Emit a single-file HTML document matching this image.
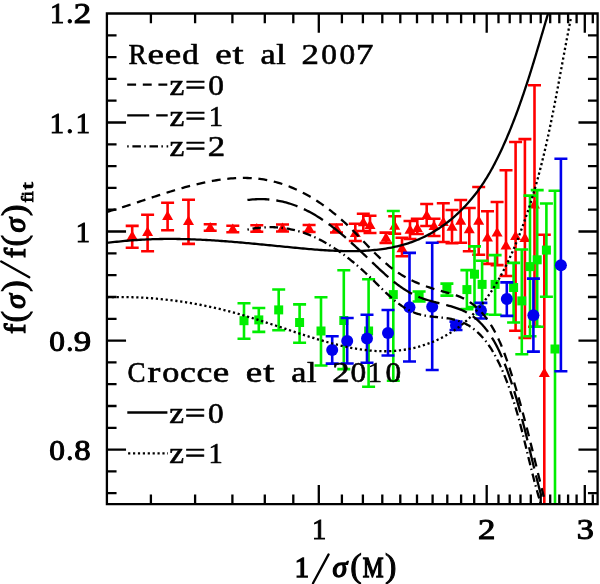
<!DOCTYPE html><html><head><meta charset="utf-8"><style>html,body{margin:0;padding:0;background:#fff;overflow:hidden}svg{display:block}</style></head><body><svg width="600" height="584" viewBox="0 0 600 584">
<rect width="600" height="584" fill="#fff"/>
<defs><clipPath id="c"><rect x="106.9" y="13.5" width="490.7" height="490.6"/></clipPath></defs>
<g clip-path="url(#c)">
<path d="M132.2,225.9V247.7M125.7,225.9h13.0M125.7,247.7h13.0" stroke="#ff0000" stroke-width="2.6" fill="none"/>
<path d="M147.6,214.8V251.3M141.1,214.8h13.0M141.1,251.3h13.0" stroke="#ff0000" stroke-width="2.6" fill="none"/>
<path d="M167.6,202.8V230.2M161.1,202.8h13.0M161.1,230.2h13.0" stroke="#ff0000" stroke-width="2.6" fill="none"/>
<path d="M188.5,199.7V243.9M182.0,199.7h13.0M182.0,243.9h13.0" stroke="#ff0000" stroke-width="2.6" fill="none"/>
<path d="M210.2,224.2V230.8M203.7,224.2h13.0M203.7,230.8h13.0" stroke="#ff0000" stroke-width="2.6" fill="none"/>
<path d="M232.8,225.8V232.2M226.3,225.8h13.0M226.3,232.2h13.0" stroke="#ff0000" stroke-width="2.6" fill="none"/>
<path d="M256.8,225.3V231.7M250.3,225.3h13.0M250.3,231.7h13.0" stroke="#ff0000" stroke-width="2.6" fill="none"/>
<path d="M282.5,224.5V231.5M276.0,224.5h13.0M276.0,231.5h13.0" stroke="#ff0000" stroke-width="2.6" fill="none"/>
<path d="M309.1,225.0V232.0M302.6,225.0h13.0M302.6,232.0h13.0" stroke="#ff0000" stroke-width="2.6" fill="none"/>
<path d="M336.5,224.5V232.5M330.0,224.5h13.0M330.0,232.5h13.0" stroke="#ff0000" stroke-width="2.6" fill="none"/>
<path d="M355.3,223.7V241.0M348.8,223.7h13.0M348.8,241.0h13.0" stroke="#ff0000" stroke-width="2.6" fill="none"/>
<path d="M363.3,213.7V231.0M356.8,213.7h13.0M356.8,231.0h13.0" stroke="#ff0000" stroke-width="2.6" fill="none"/>
<path d="M370.0,215.7V233.0M363.5,215.7h13.0M363.5,233.0h13.0" stroke="#ff0000" stroke-width="2.6" fill="none"/>
<path d="M386.0,232.6V243.0M379.5,232.6h13.0M379.5,243.0h13.0" stroke="#ff0000" stroke-width="2.6" fill="none"/>
<path d="M394.7,216.3V233.7M388.2,216.3h13.0M388.2,233.7h13.0" stroke="#ff0000" stroke-width="2.6" fill="none"/>
<path d="M402.0,237.7V256.3M395.5,237.7h13.0M395.5,256.3h13.0" stroke="#ff0000" stroke-width="2.6" fill="none"/>
<path d="M410.0,221.0V239.0M403.5,221.0h13.0M403.5,239.0h13.0" stroke="#ff0000" stroke-width="2.6" fill="none"/>
<path d="M417.3,218.7V234.0M410.8,218.7h13.0M410.8,234.0h13.0" stroke="#ff0000" stroke-width="2.6" fill="none"/>
<path d="M426.7,204.0V226.0M420.2,204.0h13.0M420.2,226.0h13.0" stroke="#ff0000" stroke-width="2.6" fill="none"/>
<path d="M434.0,218.7V236.0M427.5,218.7h13.0M427.5,236.0h13.0" stroke="#ff0000" stroke-width="2.6" fill="none"/>
<path d="M443.3,203.3V242.0M436.8,203.3h13.0M436.8,242.0h13.0" stroke="#ff0000" stroke-width="2.6" fill="none"/>
<path d="M452.0,210.0V243.3M445.5,210.0h13.0M445.5,243.3h13.0" stroke="#ff0000" stroke-width="2.6" fill="none"/>
<path d="M460.7,200.0V242.7M454.2,200.0h13.0M454.2,242.7h13.0" stroke="#ff0000" stroke-width="2.6" fill="none"/>
<path d="M469.3,208.0V251.3M462.8,208.0h13.0M462.8,251.3h13.0" stroke="#ff0000" stroke-width="2.6" fill="none"/>
<path d="M478.7,187.0V254.7M472.2,187.0h13.0M472.2,254.7h13.0" stroke="#ff0000" stroke-width="2.6" fill="none"/>
<path d="M487.5,211.2V263.9M481.0,211.2h13.0M481.0,263.9h13.0" stroke="#ff0000" stroke-width="2.6" fill="none"/>
<path d="M497.1,202.0V265.1M490.6,202.0h13.0M490.6,265.1h13.0" stroke="#ff0000" stroke-width="2.6" fill="none"/>
<path d="M506.0,170.3V276.0M499.5,170.3h13.0M499.5,276.0h13.0" stroke="#ff0000" stroke-width="2.6" fill="none"/>
<path d="M515.6,142.0V330.7M509.1,142.0h13.0M509.1,330.7h13.0" stroke="#ff0000" stroke-width="2.6" fill="none"/>
<path d="M524.9,139.1V337.9M518.4,139.1h13.0M518.4,337.9h13.0" stroke="#ff0000" stroke-width="2.6" fill="none"/>
<path d="M534.5,85.2V326.8M528.0,85.2h13.0M528.0,326.8h13.0" stroke="#ff0000" stroke-width="2.6" fill="none"/>
<path d="M544.3,234.7V520.0M537.8,234.7h13.0" stroke="#ff0000" stroke-width="2.6" fill="none"/>
<path d="M132.2,230.5L137.7,240.0L126.7,240.0Z" fill="#ff0000"/>
<path d="M147.6,226.5L153.1,236.0L142.1,236.0Z" fill="#ff0000"/>
<path d="M167.6,210.5L173.1,220.0L162.1,220.0Z" fill="#ff0000"/>
<path d="M188.5,215.5L194.0,225.0L183.0,225.0Z" fill="#ff0000"/>
<path d="M210.2,222.0L215.7,231.5L204.7,231.5Z" fill="#ff0000"/>
<path d="M232.8,223.5L238.3,233.0L227.3,233.0Z" fill="#ff0000"/>
<path d="M256.8,223.0L262.3,232.5L251.3,232.5Z" fill="#ff0000"/>
<path d="M282.5,222.5L288.0,232.0L277.0,232.0Z" fill="#ff0000"/>
<path d="M309.1,223.0L314.6,232.5L303.6,232.5Z" fill="#ff0000"/>
<path d="M336.5,223.0L342.0,232.5L331.0,232.5Z" fill="#ff0000"/>
<path d="M355.3,227.5L360.8,237.0L349.8,237.0Z" fill="#ff0000"/>
<path d="M363.3,216.8L368.8,226.3L357.8,226.3Z" fill="#ff0000"/>
<path d="M370.0,219.5L375.5,229.0L364.5,229.0Z" fill="#ff0000"/>
<path d="M386.0,232.2L391.5,241.7L380.5,241.7Z" fill="#ff0000"/>
<path d="M394.7,220.2L400.2,229.7L389.2,229.7Z" fill="#ff0000"/>
<path d="M402.0,242.8L407.5,252.3L396.5,252.3Z" fill="#ff0000"/>
<path d="M410.0,224.2L415.5,233.7L404.5,233.7Z" fill="#ff0000"/>
<path d="M417.3,222.5L422.8,232.0L411.8,232.0Z" fill="#ff0000"/>
<path d="M426.7,209.8L432.2,219.3L421.2,219.3Z" fill="#ff0000"/>
<path d="M434.0,220.5L439.5,230.0L428.5,230.0Z" fill="#ff0000"/>
<path d="M443.3,216.5L448.8,226.0L437.8,226.0Z" fill="#ff0000"/>
<path d="M452.0,221.2L457.5,230.7L446.5,230.7Z" fill="#ff0000"/>
<path d="M460.7,215.2L466.2,224.7L455.2,224.7Z" fill="#ff0000"/>
<path d="M469.3,223.8L474.8,233.3L463.8,233.3Z" fill="#ff0000"/>
<path d="M478.7,215.2L484.2,224.7L473.2,224.7Z" fill="#ff0000"/>
<path d="M487.5,232.0L493.0,241.5L482.0,241.5Z" fill="#ff0000"/>
<path d="M497.1,227.0L502.6,236.5L491.6,236.5Z" fill="#ff0000"/>
<path d="M506.0,240.0L511.5,249.5L500.5,249.5Z" fill="#ff0000"/>
<path d="M515.6,230.5L521.1,240.0L510.1,240.0Z" fill="#ff0000"/>
<path d="M524.9,232.5L530.4,242.0L519.4,242.0Z" fill="#ff0000"/>
<path d="M534.5,199.0L540.0,208.5L529.0,208.5Z" fill="#ff0000"/>
<path d="M544.3,367.5L549.8,377.0L538.8,377.0Z" fill="#ff0000"/>
<path d="M244.0,303.3V338.8M237.5,303.3h13.0M237.5,338.8h13.0" stroke="#00ee00" stroke-width="2.6" fill="none"/>
<path d="M258.8,308.0V331.9M252.3,308.0h13.0M252.3,331.9h13.0" stroke="#00ee00" stroke-width="2.6" fill="none"/>
<path d="M278.7,289.5V330.2M272.2,289.5h13.0M272.2,330.2h13.0" stroke="#00ee00" stroke-width="2.6" fill="none"/>
<path d="M299.6,304.4V342.7M293.1,304.4h13.0M293.1,342.7h13.0" stroke="#00ee00" stroke-width="2.6" fill="none"/>
<path d="M321.0,297.2V365.5M314.5,297.2h13.0M314.5,365.5h13.0" stroke="#00ee00" stroke-width="2.6" fill="none"/>
<path d="M343.8,270.2V369.1M337.3,270.2h13.0M337.3,369.1h13.0" stroke="#00ee00" stroke-width="2.6" fill="none"/>
<path d="M368.6,279.2V386.7M362.1,279.2h13.0M362.1,386.7h13.0" stroke="#00ee00" stroke-width="2.6" fill="none"/>
<path d="M393.3,211.0V380.7M386.8,211.0h13.0M386.8,380.7h13.0" stroke="#00ee00" stroke-width="2.6" fill="none"/>
<path d="M419.1,291.5V301.5M412.6,291.5h13.0M412.6,301.5h13.0" stroke="#00ee00" stroke-width="2.6" fill="none"/>
<path d="M446.9,283.6V295.6M440.4,283.6h13.0M440.4,295.6h13.0" stroke="#00ee00" stroke-width="2.6" fill="none"/>
<path d="M466.9,270.1V309.1M460.4,270.1h13.0M460.4,309.1h13.0" stroke="#00ee00" stroke-width="2.6" fill="none"/>
<path d="M474.5,246.4V307.0M468.0,246.4h13.0M468.0,307.0h13.0" stroke="#00ee00" stroke-width="2.6" fill="none"/>
<path d="M482.1,260.8V314.2M475.6,260.8h13.0M475.6,314.2h13.0" stroke="#00ee00" stroke-width="2.6" fill="none"/>
<path d="M495.1,255.1V314.8M488.6,255.1h13.0M488.6,314.8h13.0" stroke="#00ee00" stroke-width="2.6" fill="none"/>
<path d="M513.6,262.9V322.5M507.1,262.9h13.0M507.1,322.5h13.0" stroke="#00ee00" stroke-width="2.6" fill="none"/>
<path d="M521.8,249.5V354.2M515.3,249.5h13.0M515.3,354.2h13.0" stroke="#00ee00" stroke-width="2.6" fill="none"/>
<path d="M530.0,195.6V336.2M523.5,195.6h13.0M523.5,336.2h13.0" stroke="#00ee00" stroke-width="2.6" fill="none"/>
<path d="M537.2,190.1V326.8M530.7,190.1h13.0M530.7,326.8h13.0" stroke="#00ee00" stroke-width="2.6" fill="none"/>
<path d="M546.4,203.5V296.8M539.9,203.5h13.0M539.9,296.8h13.0" stroke="#00ee00" stroke-width="2.6" fill="none"/>
<path d="M555.0,190.7V520.0M548.5,190.7h13.0" stroke="#00ee00" stroke-width="2.6" fill="none"/>
<rect x="239.5" y="316.2" width="9" height="9" fill="#00ee00"/>
<rect x="254.3" y="315.4" width="9" height="9" fill="#00ee00"/>
<rect x="274.2" y="305.4" width="9" height="9" fill="#00ee00"/>
<rect x="295.1" y="318.0" width="9" height="9" fill="#00ee00"/>
<rect x="316.5" y="326.5" width="9" height="9" fill="#00ee00"/>
<rect x="339.3" y="316.0" width="9" height="9" fill="#00ee00"/>
<rect x="364.1" y="326.5" width="9" height="9" fill="#00ee00"/>
<rect x="388.8" y="290.1" width="9" height="9" fill="#00ee00"/>
<rect x="414.6" y="292.0" width="9" height="9" fill="#00ee00"/>
<rect x="442.4" y="284.5" width="9" height="9" fill="#00ee00"/>
<rect x="462.4" y="285.1" width="9" height="9" fill="#00ee00"/>
<rect x="470.0" y="269.7" width="9" height="9" fill="#00ee00"/>
<rect x="477.6" y="279.9" width="9" height="9" fill="#00ee00"/>
<rect x="490.6" y="279.9" width="9" height="9" fill="#00ee00"/>
<rect x="509.1" y="283.0" width="9" height="9" fill="#00ee00"/>
<rect x="517.3" y="296.4" width="9" height="9" fill="#00ee00"/>
<rect x="525.5" y="262.1" width="9" height="9" fill="#00ee00"/>
<rect x="532.7" y="255.3" width="9" height="9" fill="#00ee00"/>
<rect x="541.9" y="245.6" width="9" height="9" fill="#00ee00"/>
<rect x="550.5" y="344.5" width="9" height="9" fill="#00ee00"/>
<path d="M332.2,336.2V363.6M325.7,336.2h13.0M325.7,363.6h13.0" stroke="#0000ee" stroke-width="2.6" fill="none"/>
<path d="M347.2,318.0V363.5M340.7,318.0h13.0M340.7,363.5h13.0" stroke="#0000ee" stroke-width="2.6" fill="none"/>
<path d="M367.0,314.7V362.7M360.5,314.7h13.0M360.5,362.7h13.0" stroke="#0000ee" stroke-width="2.6" fill="none"/>
<path d="M388.0,310.0V355.5M381.5,310.0h13.0M381.5,355.5h13.0" stroke="#0000ee" stroke-width="2.6" fill="none"/>
<path d="M409.5,252.9V361.5M403.0,252.9h13.0M403.0,361.5h13.0" stroke="#0000ee" stroke-width="2.6" fill="none"/>
<path d="M432.2,242.8V370.0M425.7,242.8h13.0M425.7,370.0h13.0" stroke="#0000ee" stroke-width="2.6" fill="none"/>
<path d="M456.0,321.6V330.0M449.5,321.6h13.0M449.5,330.0h13.0" stroke="#0000ee" stroke-width="2.6" fill="none"/>
<path d="M480.9,302.9V318.5M474.4,302.9h13.0M474.4,318.5h13.0" stroke="#0000ee" stroke-width="2.6" fill="none"/>
<path d="M506.8,282.4V315.9M500.3,282.4h13.0M500.3,315.9h13.0" stroke="#0000ee" stroke-width="2.6" fill="none"/>
<path d="M533.4,278.6V351.6M526.9,278.6h13.0M526.9,351.6h13.0" stroke="#0000ee" stroke-width="2.6" fill="none"/>
<path d="M560.9,158.8V371.3M554.4,158.8h13.0M554.4,371.3h13.0" stroke="#0000ee" stroke-width="2.6" fill="none"/>
<circle cx="332.2" cy="350.0" r="6" fill="#0000ee"/>
<circle cx="347.2" cy="341.0" r="6" fill="#0000ee"/>
<circle cx="367.0" cy="338.5" r="6" fill="#0000ee"/>
<circle cx="388.0" cy="333.0" r="6" fill="#0000ee"/>
<circle cx="409.5" cy="307.2" r="6" fill="#0000ee"/>
<circle cx="432.2" cy="306.8" r="6" fill="#0000ee"/>
<circle cx="456.0" cy="325.2" r="6" fill="#0000ee"/>
<circle cx="480.9" cy="310.5" r="6" fill="#0000ee"/>
<circle cx="506.8" cy="299.0" r="6" fill="#0000ee"/>
<circle cx="533.4" cy="315.3" r="6" fill="#0000ee"/>
<circle cx="560.9" cy="265.2" r="6" fill="#0000ee"/>
<path d="M106.70,242.98 L108.73,242.71 L110.76,242.45 L112.77,242.21 L114.79,241.97 L116.80,241.74 L118.81,241.53 L120.81,241.32 L122.81,241.12 L124.81,240.94 L126.80,240.76 L128.79,240.59 L130.77,240.43 L132.75,240.27 L134.73,240.13 L136.71,240.00 L138.68,239.87 L140.65,239.75 L142.61,239.65 L144.58,239.55 L146.54,239.45 L148.49,239.37 L150.45,239.29 L152.40,239.22 L154.35,239.16 L156.30,239.11 L158.24,239.06 L160.18,239.02 L162.12,238.99 L164.06,238.97 L166.00,238.95 L167.93,238.94 L169.86,238.94 L171.79,238.94 L173.72,238.95 L175.65,238.97 L177.57,238.99 L179.50,239.02 L181.42,239.05 L183.34,239.09 L185.26,239.14 L187.18,239.19 L189.10,239.25 L191.01,239.31 L192.93,239.38 L194.84,239.46 L196.76,239.53 L198.67,239.62 L200.58,239.71 L202.49,239.80 L204.41,239.90 L206.32,240.00 L208.23,240.11 L210.14,240.22 L212.05,240.34 L213.96,240.46 L215.87,240.59 L217.78,240.71 L219.69,240.85 L221.60,240.98 L223.51,241.12 L225.42,241.26 L227.34,241.41 L229.25,241.56 L231.16,241.71 L233.08,241.87 L234.99,242.03 L236.91,242.19 L238.82,242.35 L240.74,242.52 L242.66,242.69 L244.58,242.86 L246.50,243.03 L248.42,243.21 L250.35,243.39 L252.27,243.57 L254.20,243.75 L256.13,243.93 L258.06,244.11 L259.99,244.30 L261.92,244.49 L263.86,244.68 L265.80,244.87 L267.74,245.06 L269.68,245.25 L271.63,245.44 L273.57,245.63 L275.52,245.82 L277.47,246.02 L279.43,246.21 L281.39,246.40 L283.35,246.60 L285.31,246.79 L287.28,246.98 L289.24,247.18 L291.22,247.37 L293.19,247.56 L295.17,247.75 L297.15,247.94 L299.14,248.13 L301.12,248.32 L303.11,248.50 L305.10,248.69 L307.10,248.86 L309.09,249.04 L311.09,249.21 L313.08,249.38 L315.08,249.54 L317.08,249.69 L319.08,249.84 L321.08,249.99 L323.08,250.12 L325.09,250.25 L327.09,250.38 L329.09,250.49 L331.09,250.60 L333.09,250.70 L335.08,250.79 L337.08,250.87 L339.07,250.94 L341.07,251.00 L343.06,251.04 L345.05,251.08 L347.04,251.11 L349.02,251.12 L351.00,251.12 L352.98,251.11 L354.96,251.08 L356.93,251.05 L358.90,250.99 L360.87,250.93 L362.83,250.84 L364.78,250.75 L366.74,250.63 L368.68,250.50 L370.63,250.36 L372.57,250.19 L374.50,250.01 L376.43,249.81 L378.35,249.59 L380.26,249.36 L382.17,249.10 L384.08,248.83 L385.97,248.53 L387.86,248.22 L389.75,247.88 L391.62,247.52 L393.49,247.14 L395.35,246.74 L397.21,246.32 L399.05,245.87 L400.89,245.40 L402.72,244.91 L404.54,244.39 L406.35,243.85 L408.15,243.28 L409.94,242.68 L411.73,242.06 L413.50,241.42 L415.27,240.75 L417.02,240.05 L418.76,239.32 L420.50,238.56 L422.22,237.78 L423.93,236.97 L425.63,236.13 L427.32,235.27 L429.00,234.37 L430.66,233.46 L432.31,232.51 L433.96,231.54 L435.59,230.55 L437.20,229.53 L438.81,228.48 L440.40,227.41 L441.98,226.32 L443.55,225.21 L445.10,224.07 L446.64,222.91 L448.16,221.72 L449.67,220.52 L451.17,219.29 L452.65,218.05 L454.12,216.78 L455.58,215.49 L457.02,214.18 L458.44,212.85 L459.85,211.51 L461.24,210.14 L462.62,208.76 L463.98,207.36 L465.33,205.94 L466.66,204.50 L467.97,203.05 L469.27,201.58 L470.55,200.09 L471.82,198.59 L473.06,197.07 L474.29,195.54 L475.51,193.99 L476.70,192.43 L477.88,190.85 L479.04,189.27 L480.18,187.66 L481.30,186.05 L482.41,184.42 L483.49,182.78 L484.57,181.13 L485.62,179.47 L486.66,177.80 L487.68,176.12 L488.69,174.43 L489.68,172.72 L490.65,171.01 L491.62,169.29 L492.57,167.57 L493.50,165.83 L494.42,164.09 L495.33,162.34 L496.23,160.59 L497.12,158.82 L497.99,157.06 L498.86,155.28 L499.71,153.51 L500.55,151.73 L501.39,149.94 L502.21,148.15 L503.02,146.36 L503.83,144.56 L504.63,142.77 L505.42,140.97 L506.20,139.17 L506.98,137.36 L507.74,135.56 L508.50,133.75 L509.25,131.94 L510.00,130.13 L510.74,128.31 L511.47,126.50 L512.19,124.68 L512.91,122.86 L513.62,121.04 L514.32,119.22 L515.02,117.39 L515.71,115.56 L516.40,113.74 L517.08,111.91 L517.75,110.07 L518.42,108.24 L519.08,106.41 L519.74,104.57 L520.39,102.73 L521.03,100.90 L521.68,99.06 L522.31,97.21 L522.94,95.37 L523.57,93.53 L524.20,91.68 L524.81,89.84 L525.43,87.99 L526.04,86.14 L526.64,84.30 L527.25,82.45 L527.84,80.60 L528.44,78.74 L529.03,76.89 L529.62,75.04 L530.20,73.19 L530.79,71.33 L531.37,69.48 L531.94,67.62 L532.52,65.76 L533.09,63.91 L533.66,62.05 L534.22,60.19 L534.79,58.34 L535.35,56.48 L535.91,54.62 L536.47,52.76 L537.02,50.90 L537.58,49.04 L538.13,47.18 L538.69,45.32 L539.24,43.46 L539.79,41.60 L540.34,39.74 L540.89,37.88 L541.44,36.02 L541.99,34.17 L542.54,32.31 L543.08,30.45 L543.63,28.59 L544.18,26.73 L544.73,24.87 L545.28,23.02 L545.83,21.16 L546.38,19.30 L546.93,17.45 L547.48,15.59 L548.03,13.74" stroke="#000" stroke-width="2.3" fill="none" stroke-linejoin="round"/>
<path d="M106.87,297.20 L109.24,297.14 L111.60,297.09 L113.96,297.06 L116.33,297.04 L118.69,297.03 L121.04,297.03 L123.40,297.05 L125.76,297.08 L128.11,297.12 L130.46,297.18 L132.81,297.25 L135.16,297.33 L137.51,297.43 L139.85,297.54 L142.19,297.66 L144.53,297.79 L146.87,297.94 L149.21,298.10 L151.54,298.27 L153.88,298.46 L156.21,298.65 L158.54,298.86 L160.86,299.09 L163.19,299.32 L165.51,299.57 L167.83,299.83 L170.14,300.10 L172.46,300.39 L174.77,300.68 L177.08,300.99 L179.39,301.31 L181.69,301.65 L183.99,301.99 L186.29,302.35 L188.59,302.72 L190.88,303.11 L193.17,303.50 L195.46,303.91 L197.75,304.32 L200.03,304.75 L202.31,305.20 L204.59,305.65 L206.86,306.12 L209.13,306.60 L211.40,307.08 L213.66,307.59 L215.93,308.10 L218.18,308.62 L220.44,309.16 L222.69,309.71 L224.94,310.27 L227.19,310.84 L229.43,311.42 L231.67,312.02 L233.90,312.62 L236.13,313.24 L238.36,313.87 L240.59,314.50 L242.81,315.15 L245.03,315.81 L247.25,316.48 L249.47,317.15 L251.68,317.83 L253.90,318.52 L256.11,319.22 L258.32,319.92 L260.53,320.63 L262.75,321.35 L264.96,322.07 L267.17,322.79 L269.38,323.52 L271.60,324.25 L273.81,324.99 L276.03,325.73 L278.24,326.47 L280.46,327.21 L282.69,327.95 L284.91,328.69 L287.14,329.44 L289.37,330.18 L291.60,330.93 L293.84,331.67 L296.08,332.41 L298.32,333.15 L300.57,333.88 L302.82,334.61 L305.08,335.34 L307.34,336.07 L309.61,336.79 L311.88,337.50 L314.16,338.21 L316.44,338.91 L318.73,339.60 L321.02,340.28 L323.32,340.95 L325.61,341.60 L327.91,342.25 L330.22,342.88 L332.53,343.50 L334.84,344.10 L337.15,344.68 L339.47,345.25 L341.78,345.79 L344.10,346.32 L346.42,346.83 L348.74,347.31 L351.07,347.77 L353.39,348.21 L355.72,348.62 L358.04,349.01 L360.37,349.37 L362.69,349.70 L365.02,350.00 L367.35,350.27 L369.67,350.52 L372.00,350.73 L374.32,350.90 L376.64,351.04 L378.96,351.15 L381.28,351.22 L383.60,351.26 L385.91,351.25 L388.22,351.21 L390.53,351.13 L392.84,351.00 L395.14,350.84 L397.44,350.63 L399.74,350.38 L402.03,350.09 L404.31,349.76 L406.59,349.38 L408.86,348.97 L411.11,348.52 L413.36,348.02 L415.60,347.49 L417.83,346.91 L420.04,346.29 L422.24,345.64 L424.43,344.94 L426.60,344.21 L428.75,343.43 L430.89,342.62 L433.01,341.77 L435.12,340.88 L437.20,339.95 L439.26,338.98 L441.31,337.97 L443.33,336.93 L445.33,335.84 L447.30,334.72 L449.25,333.56 L451.18,332.37 L453.08,331.13 L454.95,329.86 L456.80,328.55 L458.61,327.21 L460.40,325.83 L462.17,324.41 L463.91,322.96 L465.62,321.48 L467.30,319.96 L468.96,318.41 L470.60,316.84 L472.21,315.23 L473.79,313.59 L475.36,311.92 L476.89,310.22 L478.41,308.50 L479.90,306.75 L481.36,304.97 L482.81,303.16 L484.23,301.34 L485.63,299.48 L487.00,297.61 L488.36,295.71 L489.70,293.79 L491.01,291.85 L492.30,289.89 L493.58,287.91 L494.83,285.91 L496.06,283.89 L497.27,281.86 L498.47,279.80 L499.65,277.74 L500.80,275.65 L501.94,273.55 L503.06,271.44 L504.17,269.32 L505.25,267.18 L506.32,265.03 L507.38,262.87 L508.41,260.70 L509.43,258.52 L510.44,256.33 L511.43,254.13 L512.40,251.93 L513.36,249.72 L514.31,247.50 L515.24,245.28 L516.15,243.05 L517.06,240.82 L517.95,238.59 L518.82,236.36 L519.69,234.12 L520.54,231.88 L521.38,229.65 L522.21,227.41 L523.02,225.17 L523.83,222.94 L524.62,220.70 L525.41,218.47 L526.18,216.23 L526.94,214.00 L527.69,211.77 L528.43,209.53 L529.16,207.30 L529.88,205.07 L530.59,202.83 L531.29,200.60 L531.98,198.37 L532.67,196.14 L533.34,193.90 L534.00,191.67 L534.66,189.44 L535.30,187.21 L535.94,184.98 L536.57,182.74 L537.19,180.51 L537.80,178.28 L538.40,176.04 L539.00,173.81 L539.59,171.57 L540.17,169.34 L540.75,167.10 L541.32,164.87 L541.88,162.63 L542.43,160.39 L542.98,158.16 L543.52,155.92 L544.06,153.68 L544.59,151.44 L545.11,149.20 L545.63,146.96 L546.14,144.72 L546.65,142.47 L547.15,140.23 L547.64,137.98 L548.14,135.74 L548.62,133.49 L549.11,131.24 L549.58,128.99 L550.06,126.74 L550.53,124.49 L551.00,122.23 L551.46,119.98 L551.92,117.72 L552.37,115.46 L552.83,113.20 L553.28,110.94 L553.72,108.68 L554.17,106.42 L554.61,104.15 L555.05,101.88 L555.49,99.62 L555.92,97.34 L556.36,95.07 L556.79,92.80 L557.22,90.52 L557.65,88.24 L558.08,85.96 L558.50,83.68 L558.93,81.40 L559.36,79.11 L559.78,76.82 L560.21,74.53 L560.63,72.24 L561.06,69.94 L561.48,67.64 L561.91,65.34 L562.34,63.04 L562.76,60.74 L563.19,58.43 L563.62,56.12 L564.05,53.81 L564.48,51.49 L564.91,49.18 L565.35,46.85 L565.79,44.53 L566.23,42.21 L566.67,39.88 L567.11,37.55 L567.56,35.21 L568.01,32.87 L568.46,30.53 L568.91,28.19 L569.37,25.85 L569.83,23.50 L570.30,21.14 L570.77,18.79" stroke="#000" stroke-width="2.3" fill="none" stroke-linejoin="round" stroke-dasharray="2.2,2.7"/>
<path d="M107.15,211.81 L109.03,211.28 L110.91,210.73 L112.80,210.18 L114.70,209.61 L116.61,209.03 L118.53,208.44 L120.45,207.84 L122.38,207.24 L124.32,206.62 L126.27,205.99 L128.22,205.36 L130.18,204.72 L132.15,204.07 L134.13,203.42 L136.11,202.77 L138.10,202.11 L140.09,201.44 L142.09,200.78 L144.09,200.11 L146.11,199.44 L148.12,198.76 L150.14,198.09 L152.17,197.42 L154.20,196.75 L156.24,196.08 L158.28,195.41 L160.32,194.75 L162.37,194.09 L164.42,193.43 L166.48,192.78 L168.53,192.13 L170.60,191.49 L172.66,190.86 L174.73,190.23 L176.80,189.61 L178.87,189.00 L180.95,188.40 L183.03,187.81 L185.11,187.23 L187.19,186.67 L189.27,186.11 L191.36,185.57 L193.44,185.03 L195.53,184.52 L197.62,184.02 L199.71,183.53 L201.79,183.06 L203.88,182.60 L205.97,182.16 L208.06,181.74 L210.15,181.34 L212.24,180.96 L214.32,180.60 L216.41,180.25 L218.49,179.93 L220.58,179.63 L222.66,179.35 L224.74,179.10 L226.82,178.86 L228.90,178.66 L230.97,178.47 L233.04,178.32 L235.11,178.19 L237.18,178.08 L239.24,178.00 L241.30,177.95 L243.36,177.93 L245.42,177.94 L247.47,177.98 L249.51,178.05 L251.55,178.15 L253.59,178.28 L255.63,178.45 L257.65,178.65 L259.68,178.88 L261.70,179.15 L263.71,179.45 L265.72,179.79 L267.72,180.16 L269.72,180.57 L271.71,181.02 L273.69,181.50 L275.67,182.01 L277.64,182.56 L279.61,183.15 L281.56,183.76 L283.51,184.41 L285.46,185.09 L287.39,185.81 L289.32,186.55 L291.24,187.32 L293.15,188.13 L295.05,188.96 L296.95,189.82 L298.83,190.71 L300.71,191.63 L302.58,192.58 L304.43,193.55 L306.28,194.55 L308.12,195.57 L309.95,196.62 L311.76,197.69 L313.57,198.79 L315.37,199.91 L317.15,201.05 L318.93,202.22 L320.69,203.41 L322.44,204.61 L324.18,205.84 L325.91,207.09 L327.63,208.36 L329.33,209.65 L331.02,210.95 L332.70,212.28 L334.37,213.62 L336.02,214.98 L337.66,216.35 L339.29,217.75 L340.90,219.15 L342.50,220.57 L344.08,222.01 L345.65,223.46 L347.20,224.92 L348.75,226.39 L350.27,227.88 L351.79,229.37 L353.29,230.88 L354.79,232.39 L356.27,233.91 L357.75,235.43 L359.22,236.95 L360.69,238.48 L362.15,240.00 L363.61,241.53 L365.06,243.05 L366.52,244.57 L367.98,246.09 L369.43,247.60 L370.90,249.10 L372.36,250.59 L373.83,252.07 L375.31,253.54 L376.79,255.00 L378.28,256.44 L379.79,257.87 L381.30,259.28 L382.82,260.67 L384.36,262.04 L385.92,263.39 L387.48,264.72 L389.07,266.02 L390.67,267.30 L392.29,268.56 L393.94,269.78 L395.60,270.98 L397.29,272.14 L399.00,273.28 L400.73,274.38 L402.49,275.45 L404.27,276.48 L406.08,277.49 L407.90,278.46 L409.75,279.41 L411.62,280.33 L413.51,281.22 L415.42,282.08 L417.35,282.91 L419.30,283.72 L421.27,284.51 L423.25,285.27 L425.24,286.01 L427.26,286.73 L429.28,287.42 L431.33,288.10 L433.38,288.75 L435.45,289.39 L437.53,290.01 L439.62,290.61 L441.72,291.19 L443.83,291.76 L445.94,292.32 L448.04,292.89 L450.14,293.47 L452.21,294.07 L454.26,294.70 L456.27,295.38 L458.24,296.10 L460.16,296.88 L462.03,297.72 L463.86,298.62 L465.63,299.57 L467.37,300.57 L469.06,301.63 L470.70,302.74 L472.30,303.90 L473.86,305.10 L475.38,306.36 L476.86,307.65 L478.30,309.00 L479.70,310.38 L481.06,311.81 L482.39,313.28 L483.68,314.79 L484.94,316.33 L486.16,317.91 L487.35,319.53 L488.51,321.18 L489.64,322.86 L490.74,324.57 L491.81,326.31 L492.85,328.08 L493.87,329.87 L494.86,331.69 L495.82,333.53 L496.76,335.40 L497.68,337.29 L498.57,339.20 L499.44,341.12 L500.30,343.06 L501.13,345.02 L501.94,346.99 L502.74,348.98 L503.52,350.98 L504.28,352.98 L505.03,355.00 L505.76,357.02 L506.48,359.05 L507.19,361.08 L507.89,363.12 L508.58,365.16 L509.26,367.20 L509.93,369.24 L510.59,371.28 L511.24,373.31 L511.89,375.34 L512.53,377.38 L513.17,379.40 L513.79,381.43 L514.41,383.46 L515.03,385.48 L515.64,387.50 L516.24,389.53 L516.83,391.55 L517.43,393.56 L518.01,395.58 L518.59,397.60 L519.16,399.61 L519.73,401.63 L520.30,403.64 L520.86,405.65 L521.41,407.67 L521.97,409.68 L522.51,411.69 L523.05,413.70 L523.59,415.71 L524.13,417.72 L524.66,419.73 L525.19,421.74 L525.71,423.75 L526.23,425.76 L526.75,427.77 L527.27,429.78 L527.78,431.79 L528.29,433.80 L528.80,435.81 L529.31,437.82 L529.81,439.83 L530.31,441.84 L530.81,443.86 L531.31,445.87 L531.81,447.89 L532.31,449.90 L532.80,451.92 L533.30,453.94 L533.79,455.96 L534.29,457.98 L534.78,460.01 L535.27,462.03 L535.77,464.06 L536.26,466.08 L536.75,468.11 L537.25,470.14 L537.74,472.18 L538.24,474.21 L538.73,476.25 L539.23,478.29 L539.73,480.33 L540.23,482.37 L540.73,484.42 L541.24,486.47 L541.74,488.52 L542.25,490.57 L542.76,492.63 L543.27,494.69 L543.78,496.75 L544.30,498.82 L544.82,500.89 L545.35,502.96 L545.87,505.03" stroke="#000" stroke-width="2.3" fill="none" stroke-linejoin="round" stroke-dasharray="8.9,6.7"/>
<path d="M247.42,199.98 L249.15,199.77 L250.87,199.60 L252.58,199.45 L254.27,199.33 L255.95,199.23 L257.63,199.17 L259.29,199.13 L260.93,199.13 L262.57,199.15 L264.20,199.19 L265.82,199.26 L267.42,199.36 L269.01,199.49 L270.60,199.64 L272.17,199.81 L273.74,200.01 L275.29,200.24 L276.83,200.49 L278.37,200.76 L279.89,201.06 L281.40,201.37 L282.91,201.72 L284.40,202.08 L285.89,202.47 L287.36,202.88 L288.83,203.31 L290.29,203.76 L291.74,204.23 L293.18,204.72 L294.61,205.23 L296.04,205.77 L297.45,206.32 L298.86,206.89 L300.26,207.48 L301.65,208.08 L303.04,208.71 L304.41,209.35 L305.78,210.01 L307.14,210.69 L308.50,211.39 L309.84,212.10 L311.18,212.82 L312.52,213.56 L313.84,214.32 L315.16,215.09 L316.47,215.88 L317.78,216.68 L319.08,217.50 L320.37,218.33 L321.66,219.17 L322.94,220.02 L324.22,220.89 L325.49,221.77 L326.75,222.66 L328.01,223.57 L329.27,224.48 L330.52,225.41 L331.76,226.34 L333.00,227.29 L334.23,228.24 L335.46,229.21 L336.68,230.18 L337.90,231.17 L339.12,232.16 L340.33,233.16 L341.54,234.16 L342.74,235.18 L343.94,236.20 L345.14,237.23 L346.33,238.26 L347.52,239.31 L348.70,240.35 L349.88,241.41 L351.06,242.46 L352.24,243.53 L353.41,244.59 L354.58,245.66 L355.75,246.74 L356.91,247.81 L358.08,248.90 L359.24,249.98 L360.40,251.06 L361.55,252.15 L362.71,253.24 L363.86,254.33 L365.01,255.42 L366.16,256.51 L367.31,257.61 L368.45,258.70 L369.60,259.79 L370.75,260.88 L371.89,261.97 L373.03,263.06 L374.17,264.15 L375.32,265.23 L376.46,266.31 L377.60,267.39 L378.74,268.47 L379.89,269.54 L381.03,270.60 L382.18,271.66 L383.33,272.71 L384.49,273.76 L385.65,274.80 L386.81,275.82 L387.98,276.84 L389.15,277.85 L390.33,278.85 L391.51,279.84 L392.70,280.82 L393.90,281.78 L395.10,282.73 L396.32,283.67 L397.54,284.59 L398.77,285.50 L400.01,286.39 L401.26,287.27 L402.52,288.13 L403.79,288.97 L405.07,289.79 L406.36,290.60 L407.67,291.38 L408.99,292.15 L410.32,292.89 L411.67,293.61 L413.03,294.31 L414.40,294.99 L415.79,295.65 L417.19,296.28 L418.61,296.89 L420.05,297.47 L421.51,298.02 L422.98,298.55 L424.46,299.06 L425.96,299.55 L427.47,300.02 L428.99,300.48 L430.51,300.92 L432.05,301.34 L433.59,301.76 L435.14,302.17 L436.69,302.57 L438.24,302.96 L439.79,303.36 L441.34,303.75 L442.89,304.14 L444.44,304.54 L445.98,304.94 L447.51,305.35 L449.04,305.77 L450.55,306.20 L452.06,306.64 L453.55,307.10 L455.03,307.57 L456.50,308.06 L457.95,308.58 L459.38,309.11 L460.79,309.67 L462.18,310.26 L463.56,310.87 L464.90,311.52 L466.23,312.19 L467.53,312.91 L468.80,313.65 L470.05,314.42 L471.27,315.23 L472.48,316.06 L473.66,316.93 L474.81,317.82 L475.95,318.74 L477.06,319.69 L478.15,320.67 L479.22,321.67 L480.27,322.70 L481.30,323.75 L482.31,324.83 L483.29,325.93 L484.26,327.05 L485.21,328.19 L486.15,329.36 L487.06,330.55 L487.96,331.75 L488.83,332.98 L489.70,334.22 L490.54,335.49 L491.37,336.77 L492.18,338.06 L492.98,339.37 L493.76,340.70 L494.53,342.04 L495.28,343.40 L496.02,344.77 L496.75,346.15 L497.46,347.55 L498.16,348.95 L498.85,350.37 L499.52,351.79 L500.19,353.23 L500.84,354.67 L501.48,356.12 L502.11,357.58 L502.73,359.04 L503.34,360.52 L503.94,361.99 L504.53,363.47 L505.12,364.95 L505.69,366.44 L506.26,367.93 L506.82,369.42 L507.37,370.91 L507.91,372.41 L508.45,373.90 L508.99,375.39 L509.51,376.89 L510.03,378.38 L510.54,379.88 L511.05,381.38 L511.55,382.87 L512.04,384.37 L512.53,385.87 L513.01,387.37 L513.49,388.87 L513.96,390.37 L514.43,391.87 L514.89,393.37 L515.35,394.87 L515.80,396.37 L516.25,397.87 L516.69,399.38 L517.13,400.88 L517.56,402.38 L517.99,403.89 L518.42,405.39 L518.84,406.90 L519.26,408.40 L519.67,409.91 L520.08,411.41 L520.49,412.92 L520.89,414.43 L521.29,415.93 L521.69,417.44 L522.08,418.95 L522.48,420.45 L522.87,421.96 L523.25,423.47 L523.64,424.98 L524.02,426.49 L524.40,427.99 L524.77,429.50 L525.15,431.01 L525.52,432.52 L525.90,434.03 L526.27,435.54 L526.64,437.05 L527.00,438.56 L527.37,440.07 L527.74,441.58 L528.10,443.09 L528.46,444.60 L528.83,446.11 L529.19,447.62 L529.55,449.13 L529.92,450.64 L530.28,452.15 L530.64,453.66 L531.00,455.17 L531.37,456.68 L531.73,458.18 L532.09,459.69 L532.46,461.20 L532.82,462.71 L533.19,464.22 L533.55,465.73 L533.92,467.24 L534.29,468.75 L534.66,470.26 L535.03,471.77 L535.41,473.27 L535.78,474.78 L536.16,476.29 L536.54,477.80 L536.92,479.31 L537.31,480.81 L537.70,482.32 L538.09,483.83 L538.48,485.33 L538.87,486.84 L539.27,488.34 L539.67,489.85 L540.08,491.35 L540.48,492.86 L540.89,494.36 L541.31,495.87 L541.73,497.37 L542.15,498.87 L542.58,500.38 L543.01,501.88 L543.44,503.38 L543.88,504.88" stroke="#000" stroke-width="2.3" fill="none" stroke-linejoin="round" stroke-dasharray="22,7"/>
<path d="M247.43,229.70 L249.08,229.35 L250.72,229.03 L252.35,228.74 L253.97,228.47 L255.59,228.23 L257.19,228.02 L258.79,227.83 L260.38,227.66 L261.96,227.52 L263.54,227.41 L265.11,227.32 L266.67,227.25 L268.22,227.21 L269.76,227.19 L271.30,227.19 L272.83,227.22 L274.35,227.27 L275.87,227.34 L277.37,227.44 L278.87,227.56 L280.36,227.70 L281.85,227.86 L283.33,228.04 L284.80,228.24 L286.26,228.47 L287.72,228.71 L289.17,228.98 L290.61,229.26 L292.05,229.57 L293.48,229.89 L294.90,230.24 L296.32,230.60 L297.73,230.98 L299.13,231.38 L300.53,231.80 L301.92,232.24 L303.30,232.70 L304.68,233.17 L306.05,233.66 L307.41,234.17 L308.77,234.69 L310.12,235.23 L311.47,235.79 L312.81,236.36 L314.14,236.95 L315.47,237.56 L316.79,238.18 L318.10,238.82 L319.41,239.47 L320.72,240.13 L322.01,240.81 L323.31,241.51 L324.59,242.21 L325.87,242.93 L327.15,243.67 L328.42,244.42 L329.68,245.18 L330.94,245.95 L332.20,246.74 L333.45,247.54 L334.69,248.35 L335.93,249.17 L337.16,250.00 L338.39,250.84 L339.61,251.70 L340.83,252.56 L342.04,253.44 L343.25,254.33 L344.45,255.22 L345.65,256.13 L346.84,257.04 L348.03,257.97 L349.21,258.90 L350.39,259.84 L351.57,260.79 L352.74,261.75 L353.90,262.72 L355.06,263.69 L356.22,264.67 L357.37,265.66 L358.52,266.66 L359.67,267.66 L360.81,268.67 L361.94,269.68 L363.07,270.70 L364.20,271.73 L365.33,272.76 L366.45,273.80 L367.56,274.84 L368.67,275.88 L369.78,276.94 L370.89,277.99 L371.99,279.05 L373.08,280.11 L374.18,281.18 L375.27,282.25 L376.36,283.32 L377.44,284.39 L378.52,285.46 L379.60,286.53 L380.69,287.60 L381.77,288.67 L382.85,289.73 L383.93,290.79 L385.02,291.84 L386.11,292.89 L387.20,293.92 L388.30,294.95 L389.40,295.96 L390.51,296.96 L391.62,297.95 L392.75,298.93 L393.87,299.89 L395.01,300.83 L396.16,301.76 L397.31,302.67 L398.48,303.56 L399.66,304.43 L400.85,305.27 L402.05,306.10 L403.26,306.90 L404.49,307.67 L405.73,308.42 L406.99,309.14 L408.26,309.83 L409.55,310.50 L410.86,311.13 L412.19,311.73 L413.53,312.30 L414.89,312.84 L416.27,313.34 L417.68,313.80 L419.10,314.23 L420.54,314.62 L422.01,314.97 L423.50,315.29 L425.00,315.58 L426.52,315.84 L428.05,316.07 L429.59,316.29 L431.14,316.49 L432.70,316.67 L434.27,316.85 L435.83,317.01 L437.40,317.18 L438.97,317.34 L440.54,317.50 L442.10,317.67 L443.66,317.85 L445.21,318.04 L446.75,318.24 L448.27,318.46 L449.79,318.71 L451.28,318.98 L452.76,319.27 L454.22,319.60 L455.66,319.97 L457.07,320.37 L458.46,320.81 L459.82,321.28 L461.17,321.80 L462.49,322.35 L463.78,322.93 L465.06,323.55 L466.31,324.20 L467.54,324.88 L468.75,325.60 L469.94,326.34 L471.11,327.12 L472.26,327.93 L473.39,328.76 L474.50,329.63 L475.58,330.52 L476.65,331.44 L477.70,332.39 L478.74,333.36 L479.75,334.35 L480.74,335.37 L481.72,336.42 L482.68,337.48 L483.63,338.57 L484.55,339.68 L485.46,340.81 L486.35,341.96 L487.23,343.13 L488.09,344.32 L488.94,345.53 L489.77,346.75 L490.59,347.99 L491.39,349.24 L492.18,350.51 L492.95,351.79 L493.71,353.09 L494.46,354.40 L495.20,355.72 L495.92,357.05 L496.63,358.39 L497.32,359.75 L498.01,361.11 L498.68,362.48 L499.35,363.86 L500.00,365.24 L500.64,366.63 L501.27,368.03 L501.89,369.43 L502.51,370.84 L503.11,372.24 L503.70,373.66 L504.29,375.07 L504.86,376.48 L505.43,377.90 L505.99,379.32 L506.54,380.74 L507.08,382.16 L507.62,383.58 L508.15,385.00 L508.67,386.43 L509.18,387.85 L509.69,389.28 L510.19,390.71 L510.68,392.14 L511.17,393.57 L511.65,395.00 L512.12,396.43 L512.59,397.87 L513.05,399.30 L513.51,400.74 L513.96,402.18 L514.40,403.61 L514.84,405.05 L515.27,406.49 L515.70,407.93 L516.12,409.37 L516.54,410.82 L516.96,412.26 L517.37,413.70 L517.77,415.15 L518.18,416.59 L518.57,418.04 L518.97,419.49 L519.36,420.93 L519.74,422.38 L520.13,423.83 L520.51,425.28 L520.89,426.73 L521.26,428.18 L521.63,429.63 L522.00,431.08 L522.37,432.53 L522.73,433.98 L523.10,435.43 L523.46,436.88 L523.82,438.34 L524.17,439.79 L524.53,441.24 L524.88,442.69 L525.24,444.15 L525.59,445.60 L525.94,447.05 L526.30,448.51 L526.65,449.96 L527.00,451.41 L527.35,452.87 L527.70,454.32 L528.05,455.77 L528.40,457.23 L528.75,458.68 L529.10,460.13 L529.46,461.58 L529.81,463.04 L530.17,464.49 L530.52,465.94 L530.88,467.39 L531.24,468.84 L531.60,470.29 L531.96,471.74 L532.33,473.19 L532.70,474.64 L533.07,476.09 L533.44,477.54 L533.81,478.99 L534.19,480.44 L534.57,481.88 L534.95,483.33 L535.34,484.78 L535.73,486.22 L536.13,487.66 L536.53,489.11 L536.93,490.55 L537.33,491.99 L537.74,493.43 L538.16,494.87 L538.58,496.31 L539.00,497.75 L539.43,499.19 L539.87,500.62 L540.31,502.06 L540.75,503.49 L541.20,504.93" stroke="#000" stroke-width="2.3" fill="none" stroke-linejoin="round" stroke-dasharray="1.5,3.7,8.5,3.4"/>
</g>
<path d="M106.9,13.5H597.6V504.1H106.9Z M106.9,493.2h8.5 M597.6,493.2h-8.5 M106.9,471.4h8.5 M597.6,471.4h-8.5 M106.9,449.6h18.0 M597.6,449.6h-18.0 M106.9,427.8h8.5 M597.6,427.8h-8.5 M106.9,406.0h8.5 M597.6,406.0h-8.5 M106.9,384.2h8.5 M597.6,384.2h-8.5 M106.9,362.4h8.5 M597.6,362.4h-8.5 M106.9,340.6h18.0 M597.6,340.6h-18.0 M106.9,318.8h8.5 M597.6,318.8h-8.5 M106.9,297.0h8.5 M597.6,297.0h-8.5 M106.9,275.2h8.5 M597.6,275.2h-8.5 M106.9,253.3h8.5 M597.6,253.3h-8.5 M106.9,231.5h18.0 M597.6,231.5h-18.0 M106.9,209.7h8.5 M597.6,209.7h-8.5 M106.9,187.9h8.5 M597.6,187.9h-8.5 M106.9,166.1h8.5 M597.6,166.1h-8.5 M106.9,144.3h8.5 M597.6,144.3h-8.5 M106.9,122.5h18.0 M597.6,122.5h-18.0 M106.9,100.7h8.5 M597.6,100.7h-8.5 M106.9,78.9h8.5 M597.6,78.9h-8.5 M106.9,57.1h8.5 M597.6,57.1h-8.5 M106.9,35.3h8.5 M597.6,35.3h-8.5 M106.9,13.5h18.0 M597.6,13.5h-18.0 M150.9,504.1v-8.5 M150.9,13.5v8.5 M195.1,504.1v-8.5 M195.1,13.5v8.5 M232.4,504.1v-8.5 M232.4,13.5v8.5 M264.8,504.1v-8.5 M264.8,13.5v8.5 M293.3,504.1v-8.5 M293.3,13.5v8.5 M318.8,504.1v-18.0 M318.8,13.5v18.0 M341.9,504.1v-8.5 M341.9,13.5v8.5 M362.9,504.1v-8.5 M362.9,13.5v8.5 M382.3,504.1v-8.5 M382.3,13.5v8.5 M400.3,504.1v-8.5 M400.3,13.5v8.5 M417.0,504.1v-8.5 M417.0,13.5v8.5 M432.6,504.1v-8.5 M432.6,13.5v8.5 M447.3,504.1v-8.5 M447.3,13.5v8.5 M461.1,504.1v-8.5 M461.1,13.5v8.5 M474.2,504.1v-8.5 M474.2,13.5v8.5 M486.7,504.1v-18.0 M486.7,13.5v18.0 M498.5,504.1v-8.5 M498.5,13.5v8.5 M509.7,504.1v-8.5 M509.7,13.5v8.5 M520.5,504.1v-8.5 M520.5,13.5v8.5 M530.8,504.1v-8.5 M530.8,13.5v8.5 M540.7,504.1v-8.5 M540.7,13.5v8.5 M550.2,504.1v-8.5 M550.2,13.5v8.5 M559.3,504.1v-8.5 M559.3,13.5v8.5 M568.1,504.1v-8.5 M568.1,13.5v8.5 M576.6,504.1v-8.5 M576.6,13.5v8.5 M584.8,504.1v-18.0 M584.8,13.5v18.0 M592.8,504.1v-8.5 M592.8,13.5v8.5" stroke="#000" stroke-width="2.3" fill="none" stroke-linecap="square"/>
<g style="opacity:0.999">
<text transform="translate(137.60,64.00) scale(0.960,1)" x="0" y="0" text-anchor="middle" style="font-family:'Liberation Serif';font-size:28.50px;stroke:#000;stroke-width:0.60;">R</text>
<text transform="translate(155.80,64.00) scale(1.300,1)" x="0" y="0" text-anchor="middle" style="font-family:'Liberation Serif';font-size:28.50px;stroke:#000;stroke-width:0.60;">e</text>
<text transform="translate(173.00,64.00) scale(1.300,1)" x="0" y="0" text-anchor="middle" style="font-family:'Liberation Serif';font-size:28.50px;stroke:#000;stroke-width:0.60;">e</text>
<text transform="translate(190.50,64.00) scale(1.150,1)" x="0" y="0" text-anchor="middle" style="font-family:'Liberation Serif';font-size:28.50px;stroke:#000;stroke-width:0.60;">d</text>
<text transform="translate(223.50,64.00) scale(1.300,1)" x="0" y="0" text-anchor="middle" style="font-family:'Liberation Serif';font-size:28.50px;stroke:#000;stroke-width:0.60;">e</text>
<text transform="translate(238.00,64.00) scale(1.400,1)" x="0" y="0" text-anchor="middle" style="font-family:'Liberation Serif';font-size:28.50px;stroke:#000;stroke-width:0.60;">t</text>
<text transform="translate(268.00,64.00) scale(1.200,1)" x="0" y="0" text-anchor="middle" style="font-family:'Liberation Serif';font-size:28.50px;stroke:#000;stroke-width:0.60;">a</text>
<text transform="translate(281.10,64.00) scale(1.200,1)" x="0" y="0" text-anchor="middle" style="font-family:'Liberation Serif';font-size:28.50px;stroke:#000;stroke-width:0.60;">l</text>
<text transform="translate(310.20,64.00) scale(1.220,1)" x="0" y="0" text-anchor="middle" style="font-family:'Liberation Serif';font-size:28.50px;stroke:#000;stroke-width:0.60;">2</text>
<text transform="translate(329.00,64.00) scale(1.100,1)" x="0" y="0" text-anchor="middle" style="font-family:'Liberation Serif';font-size:28.50px;stroke:#000;stroke-width:0.60;">0</text>
<text transform="translate(347.40,64.00) scale(1.100,1)" x="0" y="0" text-anchor="middle" style="font-family:'Liberation Serif';font-size:28.50px;stroke:#000;stroke-width:0.60;">0</text>
<text transform="translate(364.70,64.00) scale(1.220,1)" x="0" y="0" text-anchor="middle" style="font-family:'Liberation Serif';font-size:28.50px;stroke:#000;stroke-width:0.60;">7</text>
<text transform="translate(176.80,94.50) scale(1.170,1)" x="0" y="0" text-anchor="middle" style="font-family:'Liberation Serif';font-size:28.50px;stroke:#000;stroke-width:0.60;">z</text>
<text transform="translate(195.50,94.50) scale(1.300,1)" x="0" y="0" text-anchor="middle" style="font-family:'Liberation Serif';font-size:28.50px;stroke:#000;stroke-width:0.60;">=</text>
<text transform="translate(216.20,94.50) scale(1.100,1)" x="0" y="0" text-anchor="middle" style="font-family:'Liberation Serif';font-size:28.50px;stroke:#000;stroke-width:0.60;">0</text>
<text transform="translate(177.00,125.60) scale(1.170,1)" x="0" y="0" text-anchor="middle" style="font-family:'Liberation Serif';font-size:28.50px;stroke:#000;stroke-width:0.60;">z</text>
<text transform="translate(195.50,125.60) scale(1.300,1)" x="0" y="0" text-anchor="middle" style="font-family:'Liberation Serif';font-size:28.50px;stroke:#000;stroke-width:0.60;">=</text>
<text transform="translate(215.80,125.60) scale(1.000,1)" x="0" y="0" text-anchor="middle" style="font-family:'Liberation Serif';font-size:28.50px;stroke:#000;stroke-width:0.60;">1</text>
<text transform="translate(177.00,156.00) scale(1.170,1)" x="0" y="0" text-anchor="middle" style="font-family:'Liberation Serif';font-size:28.50px;stroke:#000;stroke-width:0.60;">z</text>
<text transform="translate(195.50,156.00) scale(1.300,1)" x="0" y="0" text-anchor="middle" style="font-family:'Liberation Serif';font-size:28.50px;stroke:#000;stroke-width:0.60;">=</text>
<text transform="translate(216.50,156.00) scale(1.220,1)" x="0" y="0" text-anchor="middle" style="font-family:'Liberation Serif';font-size:28.50px;stroke:#000;stroke-width:0.60;">2</text>
<text transform="translate(136.60,381.50) scale(0.950,1)" x="0" y="0" text-anchor="middle" style="font-family:'Liberation Serif';font-size:28.50px;stroke:#000;stroke-width:0.60;">C</text>
<text transform="translate(153.80,381.50) scale(1.350,1)" x="0" y="0" text-anchor="middle" style="font-family:'Liberation Serif';font-size:28.50px;stroke:#000;stroke-width:0.60;">r</text>
<text transform="translate(170.80,381.50) scale(1.200,1)" x="0" y="0" text-anchor="middle" style="font-family:'Liberation Serif';font-size:28.50px;stroke:#000;stroke-width:0.60;">o</text>
<text transform="translate(188.00,381.50) scale(1.250,1)" x="0" y="0" text-anchor="middle" style="font-family:'Liberation Serif';font-size:28.50px;stroke:#000;stroke-width:0.60;">c</text>
<text transform="translate(204.40,381.50) scale(1.250,1)" x="0" y="0" text-anchor="middle" style="font-family:'Liberation Serif';font-size:28.50px;stroke:#000;stroke-width:0.60;">c</text>
<text transform="translate(221.00,381.50) scale(1.300,1)" x="0" y="0" text-anchor="middle" style="font-family:'Liberation Serif';font-size:28.50px;stroke:#000;stroke-width:0.60;">e</text>
<text transform="translate(254.00,381.50) scale(1.300,1)" x="0" y="0" text-anchor="middle" style="font-family:'Liberation Serif';font-size:28.50px;stroke:#000;stroke-width:0.60;">e</text>
<text transform="translate(268.80,381.50) scale(1.400,1)" x="0" y="0" text-anchor="middle" style="font-family:'Liberation Serif';font-size:28.50px;stroke:#000;stroke-width:0.60;">t</text>
<text transform="translate(298.80,381.50) scale(1.200,1)" x="0" y="0" text-anchor="middle" style="font-family:'Liberation Serif';font-size:28.50px;stroke:#000;stroke-width:0.60;">a</text>
<text transform="translate(311.70,381.50) scale(1.200,1)" x="0" y="0" text-anchor="middle" style="font-family:'Liberation Serif';font-size:28.50px;stroke:#000;stroke-width:0.60;">l</text>
<text transform="translate(341.00,381.50) scale(1.220,1)" x="0" y="0" text-anchor="middle" style="font-family:'Liberation Serif';font-size:28.50px;stroke:#000;stroke-width:0.60;">2</text>
<text transform="translate(358.30,381.50) scale(1.100,1)" x="0" y="0" text-anchor="middle" style="font-family:'Liberation Serif';font-size:28.50px;stroke:#000;stroke-width:0.60;">0</text>
<text transform="translate(374.90,381.50) scale(1.000,1)" x="0" y="0" text-anchor="middle" style="font-family:'Liberation Serif';font-size:28.50px;stroke:#000;stroke-width:0.60;">1</text>
<text transform="translate(393.30,381.50) scale(1.100,1)" x="0" y="0" text-anchor="middle" style="font-family:'Liberation Serif';font-size:28.50px;stroke:#000;stroke-width:0.60;">0</text>
<text transform="translate(176.60,422.80) scale(1.170,1)" x="0" y="0" text-anchor="middle" style="font-family:'Liberation Serif';font-size:28.50px;stroke:#000;stroke-width:0.60;">z</text>
<text transform="translate(195.30,422.80) scale(1.300,1)" x="0" y="0" text-anchor="middle" style="font-family:'Liberation Serif';font-size:28.50px;stroke:#000;stroke-width:0.60;">=</text>
<text transform="translate(215.90,422.80) scale(1.100,1)" x="0" y="0" text-anchor="middle" style="font-family:'Liberation Serif';font-size:28.50px;stroke:#000;stroke-width:0.60;">0</text>
<text transform="translate(176.60,462.90) scale(1.170,1)" x="0" y="0" text-anchor="middle" style="font-family:'Liberation Serif';font-size:28.50px;stroke:#000;stroke-width:0.60;">z</text>
<text transform="translate(195.30,462.90) scale(1.300,1)" x="0" y="0" text-anchor="middle" style="font-family:'Liberation Serif';font-size:28.50px;stroke:#000;stroke-width:0.60;">=</text>
<text transform="translate(215.60,462.90) scale(1.000,1)" x="0" y="0" text-anchor="middle" style="font-family:'Liberation Serif';font-size:28.50px;stroke:#000;stroke-width:0.60;">1</text>
<text transform="translate(57.10,23.40) scale(1.000,1)" x="0" y="0" text-anchor="middle" style="font-family:'Liberation Serif';font-size:28.50px;stroke:#000;stroke-width:1.00;">1</text>
<text transform="translate(69.80,23.40) scale(1.000,1)" x="0" y="0" text-anchor="middle" style="font-family:'Liberation Serif';font-size:28.50px;stroke:#000;stroke-width:1.00;">.</text>
<text transform="translate(82.50,23.40) scale(1.220,1)" x="0" y="0" text-anchor="middle" style="font-family:'Liberation Serif';font-size:28.50px;stroke:#000;stroke-width:1.00;">2</text>
<text transform="translate(56.90,132.50) scale(1.000,1)" x="0" y="0" text-anchor="middle" style="font-family:'Liberation Serif';font-size:28.50px;stroke:#000;stroke-width:1.00;">1</text>
<text transform="translate(69.80,132.50) scale(1.000,1)" x="0" y="0" text-anchor="middle" style="font-family:'Liberation Serif';font-size:28.50px;stroke:#000;stroke-width:1.00;">.</text>
<text transform="translate(82.80,132.50) scale(1.000,1)" x="0" y="0" text-anchor="middle" style="font-family:'Liberation Serif';font-size:28.50px;stroke:#000;stroke-width:1.00;">1</text>
<text transform="translate(82.80,241.60) scale(1.000,1)" x="0" y="0" text-anchor="middle" style="font-family:'Liberation Serif';font-size:28.50px;stroke:#000;stroke-width:1.00;">1</text>
<text transform="translate(57.00,350.50) scale(1.100,1)" x="0" y="0" text-anchor="middle" style="font-family:'Liberation Serif';font-size:28.50px;stroke:#000;stroke-width:1.00;">0</text>
<text transform="translate(69.80,350.50) scale(1.000,1)" x="0" y="0" text-anchor="middle" style="font-family:'Liberation Serif';font-size:28.50px;stroke:#000;stroke-width:1.00;">.</text>
<text transform="translate(82.50,350.50) scale(1.220,1)" x="0" y="0" text-anchor="middle" style="font-family:'Liberation Serif';font-size:28.50px;stroke:#000;stroke-width:1.00;">9</text>
<text transform="translate(57.00,459.80) scale(1.100,1)" x="0" y="0" text-anchor="middle" style="font-family:'Liberation Serif';font-size:28.50px;stroke:#000;stroke-width:1.00;">0</text>
<text transform="translate(69.80,459.80) scale(1.000,1)" x="0" y="0" text-anchor="middle" style="font-family:'Liberation Serif';font-size:28.50px;stroke:#000;stroke-width:1.00;">.</text>
<text transform="translate(82.40,459.80) scale(1.150,1)" x="0" y="0" text-anchor="middle" style="font-family:'Liberation Serif';font-size:28.50px;stroke:#000;stroke-width:1.00;">8</text>
<text transform="translate(319.00,539.00) scale(1.000,1)" x="0" y="0" text-anchor="middle" style="font-family:'Liberation Serif';font-size:28.50px;stroke:#000;stroke-width:1.00;">1</text>
<text transform="translate(486.80,538.80) scale(1.220,1)" x="0" y="0" text-anchor="middle" style="font-family:'Liberation Serif';font-size:28.50px;stroke:#000;stroke-width:1.00;">2</text>
<text transform="translate(585.20,538.80) scale(1.200,1)" x="0" y="0" text-anchor="middle" style="font-family:'Liberation Serif';font-size:28.50px;stroke:#000;stroke-width:1.00;">3</text>
<text transform="translate(301.80,577.20) scale(1.000,1)" x="0" y="0" text-anchor="middle" style="font-family:'Liberation Serif';font-size:28.50px;stroke:#000;stroke-width:1.40;">1</text>
<text transform="translate(340.00,577.20) scale(1.050,1)" x="0" y="0" text-anchor="middle" style="font-family:'Liberation Serif';font-size:28.50px;stroke:#000;stroke-width:1.40;font-style:italic">σ</text>
<text transform="translate(373.20,577.20) scale(0.820,1)" x="0" y="0" text-anchor="middle" style="font-family:'Liberation Serif';font-size:28.50px;stroke:#000;stroke-width:1.40;">M</text>
<text transform="translate(356.00,577.20) scale(1.050,1)" x="0" y="0" text-anchor="middle" style="font-family:'Liberation Serif';font-size:32.77px;stroke:#000;stroke-width:1.00;">(</text>
<text transform="translate(390.80,577.20) scale(1.050,1)" x="0" y="0" text-anchor="middle" style="font-family:'Liberation Serif';font-size:32.77px;stroke:#000;stroke-width:1.00;">)</text>
<text transform="translate(24.70,328.80) rotate(-90) scale(1.050,1)" x="0" y="0" text-anchor="middle" style="font-family:'Liberation Serif';font-size:28.50px;stroke:#000;stroke-width:1.30;">f</text>
<text transform="translate(24.70,301.40) rotate(-90) scale(1.050,1)" x="0" y="0" text-anchor="middle" style="font-family:'Liberation Serif';font-size:28.50px;stroke:#000;stroke-width:1.30;font-style:italic">σ</text>
<text transform="translate(24.70,253.10) rotate(-90) scale(1.050,1)" x="0" y="0" text-anchor="middle" style="font-family:'Liberation Serif';font-size:28.50px;stroke:#000;stroke-width:1.30;">f</text>
<text transform="translate(24.70,225.20) rotate(-90) scale(1.050,1)" x="0" y="0" text-anchor="middle" style="font-family:'Liberation Serif';font-size:28.50px;stroke:#000;stroke-width:1.30;font-style:italic">σ</text>
<text transform="translate(24.70,316.80) rotate(-90) scale(1.050,1)" x="0" y="0" text-anchor="middle" style="font-family:'Liberation Serif';font-size:32.77px;stroke:#000;stroke-width:1.00;">(</text>
<text transform="translate(24.70,285.90) rotate(-90) scale(1.050,1)" x="0" y="0" text-anchor="middle" style="font-family:'Liberation Serif';font-size:32.77px;stroke:#000;stroke-width:1.00;">)</text>
<text transform="translate(24.70,240.80) rotate(-90) scale(1.050,1)" x="0" y="0" text-anchor="middle" style="font-family:'Liberation Serif';font-size:32.77px;stroke:#000;stroke-width:1.00;">(</text>
<text transform="translate(24.70,210.20) rotate(-90) scale(1.050,1)" x="0" y="0" text-anchor="middle" style="font-family:'Liberation Serif';font-size:32.77px;stroke:#000;stroke-width:1.00;">)</text>
<text transform="translate(33.20,199.30) rotate(-90) scale(1.050,1)" x="0" y="0" text-anchor="middle" style="font-family:'Liberation Serif';font-size:17.67px;stroke:#000;stroke-width:1.00;">f</text>
<text transform="translate(33.20,193.70) rotate(-90) scale(1.000,1)" x="0" y="0" text-anchor="middle" style="font-family:'Liberation Serif';font-size:17.67px;stroke:#000;stroke-width:1.00;">i</text>
<text transform="translate(33.20,185.70) rotate(-90) scale(1.400,1)" x="0" y="0" text-anchor="middle" style="font-family:'Liberation Serif';font-size:17.67px;stroke:#000;stroke-width:1.00;">t</text>
<path d="M313,583.3L328.6,554.4M1.2,261.4L29.3,277.2" stroke="#000" stroke-width="2.3" stroke-linecap="round"/>
<path d="M127.2,84.6H167.5" stroke="#000" stroke-width="2.3" stroke-dasharray="8.9,6.7"/>
<path d="M127.2,115.4H167.7" stroke="#000" stroke-width="2.3" stroke-dasharray="22,7"/>
<path d="M127.2,146.3H168.2" stroke="#000" stroke-width="2.3" stroke-dasharray="1.5,3.7,8.5,3.4"/>
<path d="M127.3,412.5H167.4" stroke="#000" stroke-width="2.3"/>
<path d="M128.1,453.3H168" stroke="#000" stroke-width="2.3" stroke-dasharray="2.2,2.7"/>
</g>
</svg></body></html>
